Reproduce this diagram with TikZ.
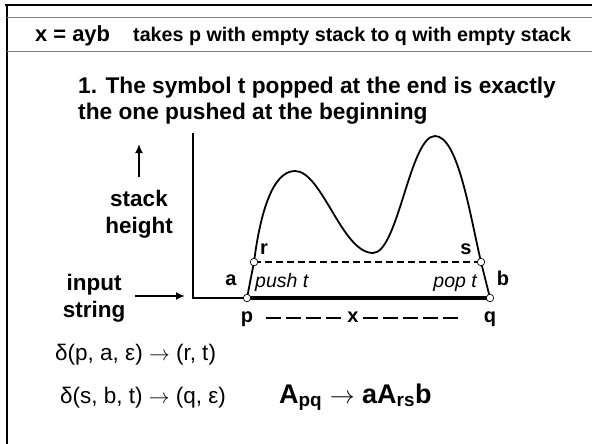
\documentclass[tikz,border=0pt]{standalone}
\usepackage{fontspec}
\setmainfont{Liberation Sans}
\usetikzlibrary{positioning,arrows.meta}

\begin{document}
\begin{tikzpicture}[x=1pt,y=-1pt,
		txt/.style={inner sep=0pt, anchor=base west},
		bigtxt/.style={inner sep=0pt, anchor=north, align=center, font=\bfseries\fontsize{22.5}{27}\selectfont},
		ptlbl/.style={inner sep=0pt, anchor=base, font=\bfseries\fontsize{20}{24}\selectfont},
		eqn/.style={inner sep=0pt, anchor=base west, font=\fontsize{22.5}{26}\selectfont},
		dot/.style={circle, draw, fill=white, line width=0.7pt, inner sep=0pt, minimum size=7.5pt},
		arr/.style={-{Latex[length=9pt,width=8pt]}, line width=2.6pt},
		xdash/.style={dash pattern=on 15pt off 5pt, line width=1.5pt}]
				\useasboundingbox (0,0) rectangle (592,444);
				\draw[line width=2.6pt] (5,5) -- (592,5);
				\draw[line width=2.6pt] (7,4) -- (7,444);
				\draw[gray, line width=0.8pt] (7,17) -- (592,17);
				\draw[gray, line width=0.8pt] (7,51) -- (592,51);
				
				\node[txt, font=\bfseries\fontsize{21.9}{26}\selectfont] (hdx) at (35,42) {x = ayb};
				\node[txt, font=\bfseries\fontsize{19.7}{24}\selectfont] (hdtxt) at (133,42) {takes p with empty stack to q with empty stack};
				
				\node[txt, font=\bfseries\fontsize{22.7}{27}\selectfont] (ttl1) at (78,93) {1. The symbol t popped at the end is exactly};
				\node[txt, font=\bfseries\fontsize{22.7}{27}\selectfont] (ttl2) at (78,120) {the one pushed at the beginning};
				
				\coordinate (o) at (193,298);
				\coordinate (ytop) at (193,133);
				\coordinate (p) at (247,298);
				\coordinate (q) at (490,298);
				\coordinate (r) at (254,262);
				\coordinate (s) at (481,262);
				
				\draw[line width=1.5pt] (ytop) -- (o) -- (p);
				\draw[line width=3.5pt] (p) -- (q);
				\draw[line width=1.8pt] (p) -- (r) .. controls (260,215) and (272,171) .. (295,171)
					.. controls (322,171) and (342,253) .. (373,253)
					.. controls (398,253) and (410,136) .. (435,136)
					.. controls (458,136) and (470,215) .. (s) -- (q);
				\draw[dash pattern=on 7pt off 4pt, line width=1.2pt] (r) -- (s);
				
				\node[dot] (pd) at (p) {};
				\node[dot] (qd) at (q) {};
				\node[dot] (rd) at (r) {};
				\node[dot] (sd) at (s) {};
				
				\node[ptlbl] (rl) at (264,254) {r};
				\node[ptlbl] (sl) at (466,254) {s};
				\node[ptlbl] (al) at (231,285) {a};
				\node[ptlbl] (bl) at (503,285) {b};
				\node[txt, font=\itshape\fontsize{19.5}{24}\selectfont] (push) at (255,287) {push t};
				\node[txt, anchor=base east, font=\itshape\fontsize{19.5}{24}\selectfont] (pop) at (477,287) {pop t};
				
				\node[ptlbl] (pl) at (247,322) {p};
				\node[ptlbl] (xl) at (353,322) {x};
				\node[ptlbl] (ql) at (490,322) {q};
				\draw[xdash, shorten <=13pt, shorten >=5pt] (pl.east |- 0,318) -- (xl.west |- 0,318);
				\draw[xdash, shorten <=4pt, shorten >=21pt] (xl.east |- 0,318) -- (ql.west |- 0,318);
				
				\node[bigtxt] (stk) at (139,190) {stack\\height};
				\coordinate (stktip) at (139,144);
				\draw[arr, shorten <=13pt] (stk.north) -- (stk.north |- stktip);
				
				\node[bigtxt] (inp) at (94,274) {input\\string};
				\coordinate (axin) at (185,296);
				\draw[arr, shorten <=10pt] (inp.east |- axin) -- (axin);
				
				\node[eqn] (d1) at (55,360) {δ(p, a, ε) $\rightarrow$ (r, t)};
				\node[eqn] (d2) at (60,403) {δ(s, b, t) $\rightarrow$ (q, ε)};
				\node[txt, font=\bfseries\fontsize{27}{30}\selectfont] (rule) at (279,403) {A\textsubscript{pq} $\rightarrow$ aA\textsubscript{rs}b};
			\end{tikzpicture}
\end{document}
